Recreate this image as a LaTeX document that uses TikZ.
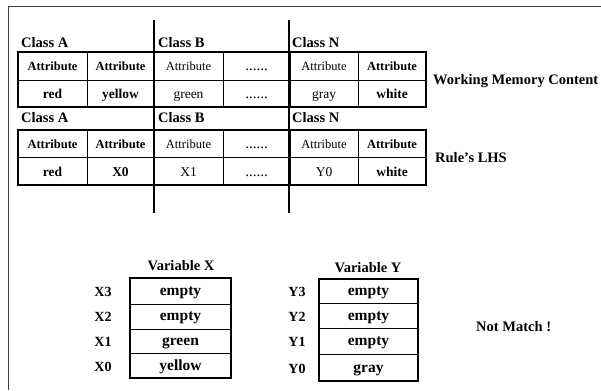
\documentclass[tikz,border=0pt]{standalone}
\usepackage{fontspec}
\setmainfont{Liberation Serif}
\begin{document}
\begin{tikzpicture}[x=1pt,y=-1pt,
  cls/.style={font=\fontsize{14.5}{14.5}\selectfont\bfseries,anchor=base west,inner sep=0pt},
  attr/.style={font=\fontsize{12.5}{12.5}\selectfont,inner sep=0pt,anchor=base},
  attrb/.style={font=\fontsize{12.5}{12.5}\selectfont\bfseries,inner sep=0pt,anchor=base},
  dots/.style={font=\fontsize{15}{15}\selectfont,inner sep=0pt,anchor=base},
  val/.style={font=\fontsize{13.5}{13.5}\selectfont,inner sep=0pt,anchor=base},
  valb/.style={font=\fontsize{13.5}{13.5}\selectfont\bfseries,inner sep=0pt,anchor=base},
  side/.style={font=\fontsize{14.5}{14.5}\selectfont\bfseries,anchor=base west,inner sep=0pt},
  vtitle/.style={font=\fontsize{14.5}{14.5}\selectfont\bfseries,inner sep=0pt,anchor=base},
  vcell/.style={font=\fontsize{15.5}{15.5}\selectfont\bfseries,inner sep=0pt,anchor=base},
  vlab/.style={font=\fontsize{14}{14}\selectfont\bfseries,inner sep=0pt,anchor=base},
  thin/.style={line width=0.8pt},
  thick/.style={line width=2pt},
  bar/.style={line width=2.6pt}]
\useasboundingbox (0,0) rectangle (601,390);
% frame
\draw[line width=1pt,black!75] (8,390) -- (8,7) -- (601,7);
% tables
\foreach \t/\m/\b in {52/80/107,130/157/185}{
  \draw[thin] (18,\m) -- (426,\m);
  \foreach \x in {87,223,358}{\draw[thin] (\x,\t) -- (\x,\b);}
  \draw[thin] (290,\t) -- (290,\b);
  \draw[thick] (18,\t) rectangle (426,\b);
}
% vertical bars
\draw[bar] (154,20) -- (154,213);
\draw[bar] (289,20) -- (289,213);
% class labels
\node[cls] (ca1) at (21,48) {Class A};
\node[cls] (cb1) at (158,48) {Class B};
\node[cls] (cn1) at (292,48) {Class N};
\node[cls] (ca2) at (21,123) {Class A};
\node[cls] (cb2) at (158,123) {Class B};
\node[cls] (cn2) at (292,123) {Class N};
% table 1
\node[attrb] (t1a1) at (52.5,71) {Attribute};
\node[attrb] (t1a2) at (120.5,71) {Attribute};
\node[attr] (t1a3) at (188.5,71) {Attribute};
\node[dots] (t1a4) at (256.5,71) {......};
\node[attr] (t1a5) at (324,71) {Attribute};
\node[attrb] (t1a6) at (392,71) {Attribute};
\node[valb] (t1v1) at (52.5,99) {red};
\node[valb] (t1v2) at (120.5,99) {yellow};
\node[val] (t1v3) at (188.5,99) {green};
\node[dots] (t1v4) at (256.5,99) {......};
\node[val] (t1v5) at (324,99) {gray};
\node[valb] (t1v6) at (392,99) {white};
% table 2
\node[attrb] (t2a1) at (52.5,148.5) {Attribute};
\node[attrb] (t2a2) at (120.5,148.5) {Attribute};
\node[attr] (t2a3) at (188.5,148.5) {Attribute};
\node[dots] (t2a4) at (256.5,148.5) {......};
\node[attr] (t2a5) at (324,148.5) {Attribute};
\node[attrb] (t2a6) at (392,148.5) {Attribute};
\node[valb] (t2v1) at (52.5,176.5) {red};
\node[valb] (t2v2) at (120.5,176.5) {X0};
\node[val] (t2v3) at (188.5,176.5) {X1};
\node[dots] (t2v4) at (256.5,176.5) {......};
\node[val] (t2v5) at (324,176.5) {Y0};
\node[valb] (t2v6) at (392,176.5) {white};
% side labels
\node[side] (wmc) at (433,85) {Working Memory Content};
\node[side] (lhs) at (435,162) {Rule's LHS};
% variable X
\node[vtitle] (vx) at (181,270) {Variable X};
\foreach \y in {304,329,353}{\draw[thin] (130,\y) -- (231,\y);}
\draw[thick] (130,278) rectangle (231,378);
\node[vcell] (x3) at (180.5,295) {empty};
\node[vcell] (x2) at (180.5,320) {empty};
\node[vcell] (x1) at (180.5,345) {green};
\node[vcell] (x0) at (180.5,370) {yellow};
\node[vlab] (lx3) at (103,296) {X3};
\node[vlab] (lx2) at (103,321) {X2};
\node[vlab] (lx1) at (103,346) {X1};
\node[vlab] (lx0) at (103,371) {X0};
% variable Y
\node[vtitle] (vy) at (368,272) {Variable Y};
\foreach \y in {303,328,354}{\draw[thin] (319,\y) -- (418,\y);}
\draw[thick] (319,279) rectangle (418,381);
\node[vcell] (y3) at (368.5,295) {empty};
\node[vcell] (y2) at (368.5,320) {empty};
\node[vcell] (y1) at (368.5,345) {empty};
\node[vcell] (y0) at (368.5,372) {gray};
\node[vlab] (ly3) at (297,296) {Y3};
\node[vlab] (ly2) at (297,321) {Y2};
\node[vlab] (ly1) at (297,346) {Y1};
\node[vlab] (ly0) at (297,373) {Y0};
% result
\node[side] (nm) at (476,331) {Not Match !};
\end{tikzpicture}
\end{document}
